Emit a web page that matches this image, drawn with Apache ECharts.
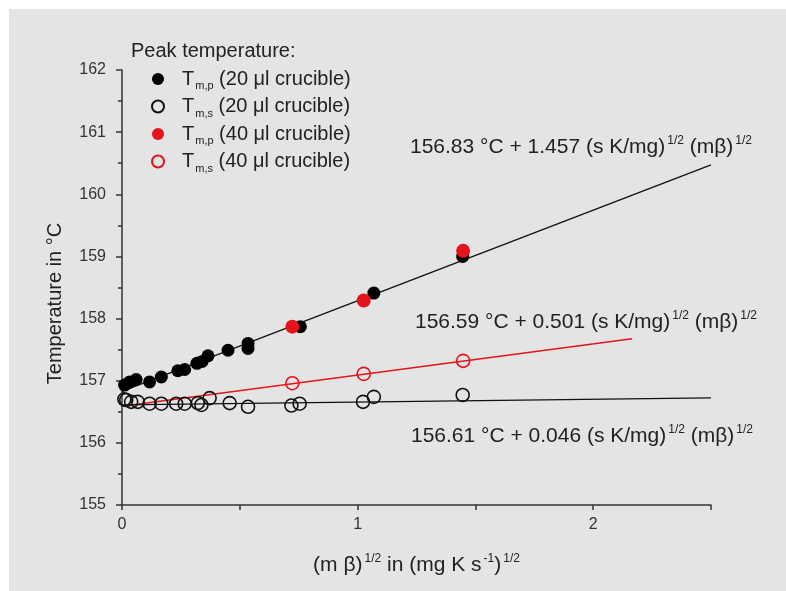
<!DOCTYPE html>
<html>
<head>
<meta charset="utf-8">
<script src="https://cdn.jsdelivr.net/npm/echarts@6/dist/echarts.min.js"></script>
<style>
  html, body { margin: 0; padding: 0; background: #ffffff; }
  #chart { width: 786px; height: 591px; }
</style>
</head>
<body>
<div id="chart"></div>
<script>
// Peak temperature vs. (m·beta)^1/2 for two crucible sizes
var tmp20 = [ // T_m,p, 20 µl crucible
  [0.011, 156.93], [0.032, 156.98], [0.060, 157.02], [0.117, 156.98],
  [0.167, 157.06], [0.237, 157.16], [0.266, 157.18], [0.318, 157.28],
  [0.340, 157.31], [0.365, 157.40], [0.450, 157.49], [0.535, 157.60],
  [0.535, 157.52], [0.757, 157.87], [1.069, 158.41], [1.446, 159.00]
];
var tms20 = [ // T_m,s, 20 µl crucible
  [0.010, 156.70], [0.018, 156.69], [0.039, 156.66], [0.067, 156.66],
  [0.117, 156.63], [0.167, 156.63], [0.230, 156.63], [0.266, 156.63],
  [0.322, 156.64], [0.337, 156.61], [0.372, 156.72], [0.457, 156.64],
  [0.535, 156.58], [0.719, 156.60], [0.754, 156.63], [1.023, 156.66],
  [1.069, 156.74], [1.446, 156.77]
];
var tmp40 = [ // T_m,p, 40 µl crucible
  [0.723, 157.87], [1.026, 158.29], [1.448, 159.09]
];
var tms40 = [ // T_m,s, 40 µl crucible
  [0.723, 156.96], [1.026, 157.11], [1.448, 157.32]
];

// Linear fits: intercept (°C), slope, x-range of drawn line
var fitIntercepts = [156.83, 156.59, 156.61];
var fitSlopes     = [1.457, 0.501, 0.046];
var fitXEnd       = [2.5, 2.165, 2.5];
var fitColors     = ['#111111', '#e8141c', '#111111'];

var xTicks = [0, 1, 2];
var FONT = '"Liberation Sans", Arial, Helvetica, sans-serif';
var TXT = '#222222';

function fitLine(i) {
  var a = fitIntercepts[i], b = fitSlopes[i];
  return [[0, a], [fitXEnd[i], a + b * fitXEnd[i]]];
}

function eqText(i) {
  return fitIntercepts[i].toFixed(2) + ' °C + ' + fitSlopes[i].toFixed(3) +
    ' (s K/mg){sup|1/2} (mβ){sup|1/2}';
}

var supStyle = { fontSize: 12, fontFamily: FONT, fill: TXT, padding: [0, 0, 12, 2] };

function eqGraphic(i, x, y) {
  return {
    type: 'text', x: x, y: y, z: 10,
    style: {
      text: eqText(i), fill: TXT, fontSize: 21, fontFamily: FONT,
      verticalAlign: 'middle', rich: { sup: supStyle }
    }
  };
}

var legendNames = {
  'tmp20': '{t|T}{s|m,p}{n| (20 μl crucible)}',
  'tms20': '{t|T}{s|m,s}{n| (20 μl crucible)}',
  'tmp40': '{t|T}{s|m,p}{n| (40 μl crucible)}',
  'tms40': '{t|T}{s|m,s}{n| (40 μl crucible)}'
};

var chart = echarts.init(document.getElementById('chart'), null, { renderer: 'canvas' });

var option = {
  animation: false,
  backgroundColor: '#ffffff',
  textStyle: { fontFamily: FONT },
  title: {
    text: 'Peak temperature:', left: 126, top: 36,
    textStyle: { fontSize: 20, fontWeight: 'normal', color: TXT, fontFamily: FONT }
  },
  legend: {
    orient: 'vertical', left: 146, top: 64,
    itemWidth: 12, itemHeight: 12, itemGap: 5,
    data: ['tmp20', 'tms20', 'tmp40', 'tms40'],
    formatter: function (name) { return legendNames[name]; },
    textStyle: {
      color: TXT, fontFamily: FONT,
      rich: {
        t: { fontSize: 20, fontFamily: FONT, color: TXT, padding: [0, 0, 0, 13] },
        s: { fontSize: 11, fontFamily: FONT, color: TXT, padding: [14, 0, 0, 1] },
        n: { fontSize: 20, fontFamily: FONT, color: TXT }
      }
    }
  },
  grid: { left: 122, top: 70, width: 589, height: 435, containLabel: false },
  xAxis: {
    type: 'value', min: 0, max: 2.5, interval: 0.5,
    name: '(m β){sup|1/2} in (mg K s{sup|-1}){sup|1/2}',
    nameLocation: 'middle', nameGap: 48,
    nameTextStyle: {
      fontSize: 21, color: TXT, fontFamily: FONT,
      rich: { sup: { fontSize: 12, color: TXT, fontFamily: FONT, padding: [0, 0, 12, 2] } }
    },
    axisLine: { lineStyle: { color: '#333333', width: 1.5 } },
    axisTick: { show: true, inside: false, length: 5, lineStyle: { color: '#333333', width: 1.5 } },
    axisLabel: {
      fontSize: 16, color: '#333333', margin: 12, fontFamily: FONT,
      formatter: function (v) { return xTicks.indexOf(v) >= 0 ? String(v) : ''; }
    },
    splitLine: { show: false }
  },
  yAxis: {
    type: 'value', min: 155, max: 162, interval: 1,
    name: 'Temperature in °C', nameLocation: 'middle', nameGap: 57,
    nameTextStyle: { fontSize: 20, color: TXT, fontFamily: FONT, padding: [0, 32, 0, 0] },
    axisLine: { show: true, lineStyle: { color: '#333333', width: 1.5 } },
    axisTick: { show: true, inside: false, length: 6, lineStyle: { color: '#333333', width: 1.5 } },
    minorTick: { show: true, splitNumber: 2, length: 4, lineStyle: { color: '#333333', width: 1.5 } },
    axisLabel: { fontSize: 16, color: '#333333', margin: 16, fontFamily: FONT },
    splitLine: { show: false }
  },
  graphic: [
    { type: 'rect', z: -10, shape: { x: 9, y: 9, width: 777, height: 582 }, style: { fill: '#e3e4e3' } },
    eqGraphic(0, 410, 147),
    eqGraphic(1, 415, 322),
    eqGraphic(2, 411, 436)
  ],
  series: [
    { type: 'line', data: fitLine(0), symbol: 'none', z: 1, silent: true,
      lineStyle: { color: fitColors[0], width: 1.3 } },
    { type: 'line', data: fitLine(1), symbol: 'none', z: 1, silent: true,
      lineStyle: { color: fitColors[1], width: 1.5 } },
    { type: 'line', data: fitLine(2), symbol: 'none', z: 1, silent: true,
      lineStyle: { color: fitColors[2], width: 1.3 } },
    { name: 'tmp20', type: 'scatter', data: tmp20, symbol: 'circle', symbolSize: 13, z: 3,
      itemStyle: { color: '#000000', opacity: 1 } },
    { name: 'tms20', type: 'scatter', data: tms20, symbol: 'circle', symbolSize: 13, z: 3,
      itemStyle: { color: 'rgba(0,0,0,0)', borderColor: '#111111', borderWidth: 1.6, opacity: 1 } },
    { name: 'tmp40', type: 'scatter', data: tmp40, symbol: 'circle', symbolSize: 14, z: 4,
      itemStyle: { color: '#e3141b', opacity: 1 } },
    { name: 'tms40', type: 'scatter', data: tms40, symbol: 'circle', symbolSize: 13, z: 4,
      itemStyle: { color: 'rgba(0,0,0,0)', borderColor: '#e3141b', borderWidth: 1.6, opacity: 1 } }
  ]
};

chart.setOption(option);
</script>
</body>
</html>
